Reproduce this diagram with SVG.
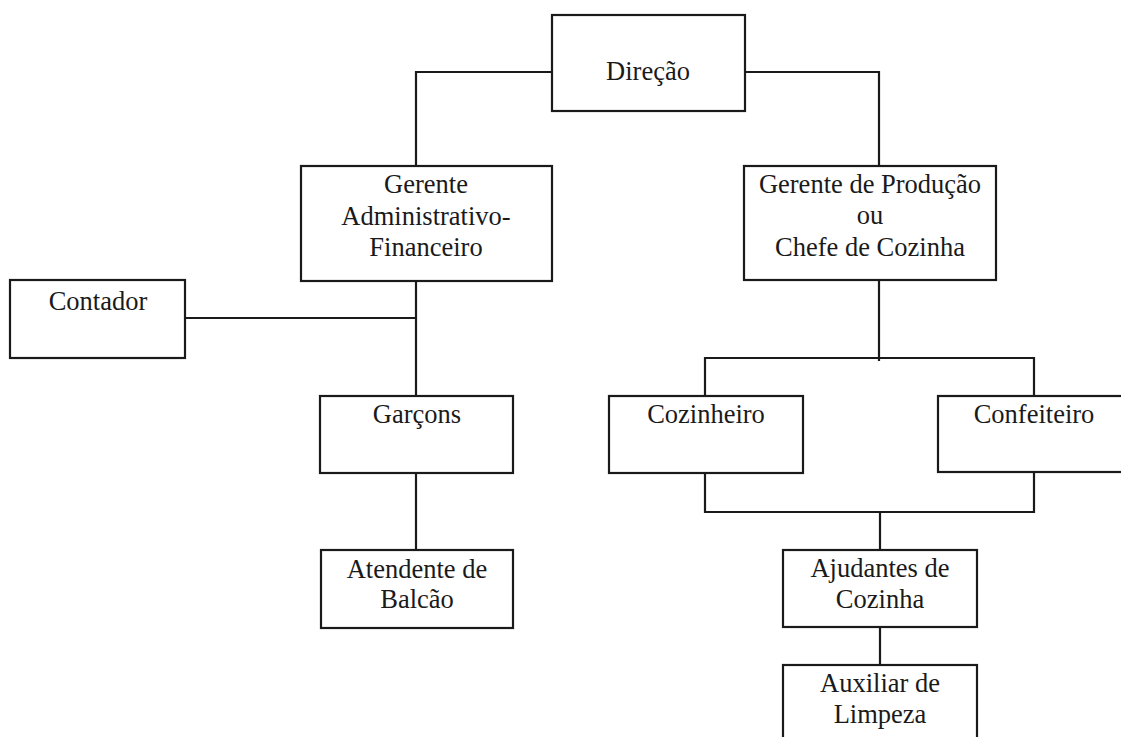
<svg xmlns="http://www.w3.org/2000/svg" width="1121" height="737" viewBox="0 0 1121 737">
<style>
.box{fill:#fff;stroke:#1a1a1a;stroke-width:2.2}
.ln{fill:none;stroke:#1a1a1a;stroke-width:2.2}
text{font-family:"Liberation Serif","Times New Roman",serif;font-size:26.5px;fill:#1a1a1a;text-anchor:middle}
</style>
<rect width="1121" height="737" fill="#fff"/>
<g id="connectors">
<polyline class="ln" points="552,72 416,72 416,166"/>
<polyline class="ln" points="745,72 879,72 879,166"/>
<line class="ln" x1="416" y1="281" x2="416" y2="396"/>
<line class="ln" x1="185" y1="318" x2="416" y2="318"/>
<line class="ln" x1="416" y1="473" x2="416" y2="550"/>
<line class="ln" x1="879" y1="280" x2="879" y2="361"/>
<polyline class="ln" points="705,396 705,358 1034,358 1034,396"/>
<polyline class="ln" points="705,473 705,512 1034,512 1034,472"/>
<line class="ln" x1="880" y1="512" x2="880" y2="550"/>
<line class="ln" x1="880" y1="627" x2="880" y2="665"/>
</g>
<g id="direcao"><rect class="box" x="552" y="15" width="193" height="96"/><text x="648" y="80">Direção</text></g>
<g id="gerente-adm"><rect class="box" x="301" y="166" width="251" height="115"/><text x="426" y="193">Gerente</text><text x="426" y="225">Administrativo-</text><text x="426" y="256">Financeiro</text></g>
<g id="gerente-prod"><rect class="box" x="744" y="166" width="252" height="114"/><text x="870" y="193">Gerente de Produção</text><text x="870" y="224">ou</text><text x="870" y="256">Chefe de Cozinha</text></g>
<g id="contador"><rect class="box" x="10" y="280" width="175" height="78"/><text x="98" y="310">Contador</text></g>
<g id="garcons"><rect class="box" x="320" y="396" width="193" height="77"/><text x="417" y="423">Garçons</text></g>
<g id="atendente"><rect class="box" x="321" y="550" width="192" height="78"/><text x="417" y="578">Atendente de</text><text x="417" y="608">Balcão</text></g>
<g id="cozinheiro"><rect class="box" x="609" y="396" width="194" height="77"/><text x="706" y="423">Cozinheiro</text></g>
<g id="confeiteiro"><rect class="box" x="938" y="396" width="195" height="76"/><text x="1034" y="423">Confeiteiro</text></g>
<g id="ajudantes"><rect class="box" x="783" y="550" width="194" height="77"/><text x="880" y="577">Ajudantes de</text><text x="880" y="608">Cozinha</text></g>
<g id="auxiliar"><rect class="box" x="783" y="665" width="194" height="90"/><text x="880" y="692">Auxiliar de</text><text x="880" y="723">Limpeza</text></g>
</svg>
